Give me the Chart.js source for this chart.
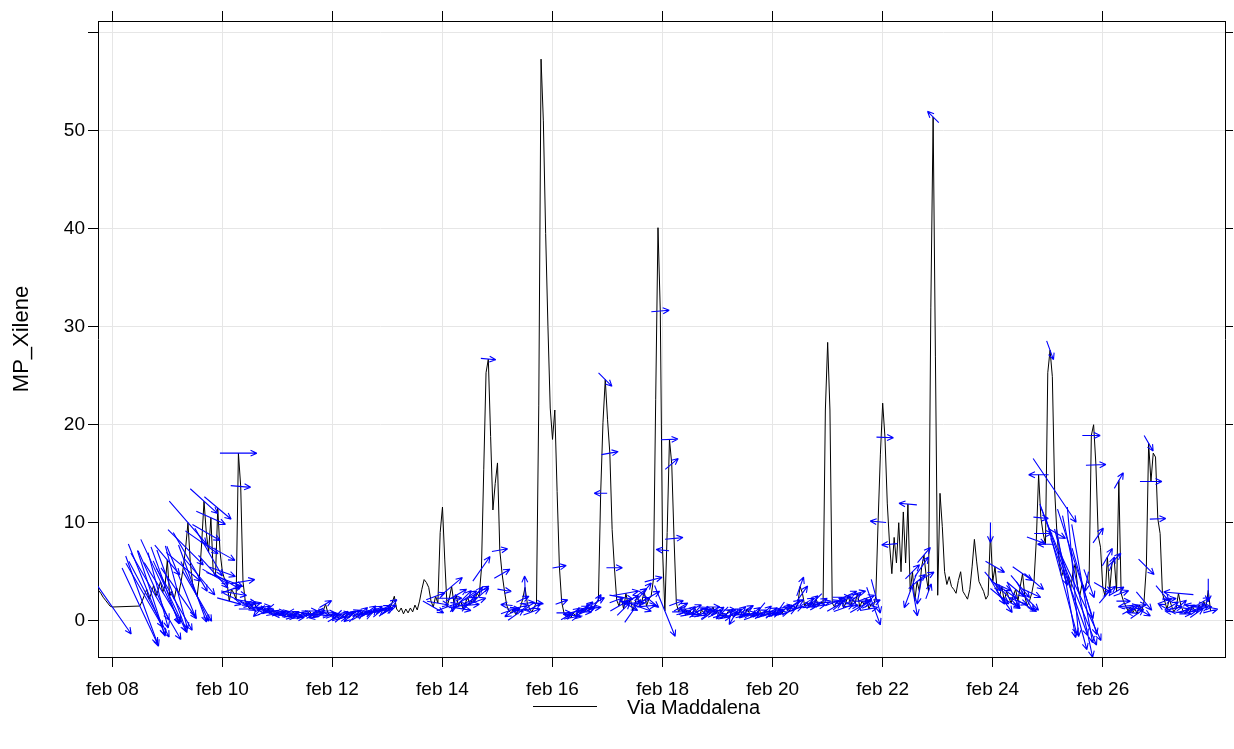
<!DOCTYPE html>
<html>
<head>
<meta charset="utf-8">
<script src="https://cdn.jsdelivr.net/npm/chart.js@4.4.1/dist/chart.umd.min.js"></script>
<style>
  html, body { margin: 0; padding: 0; background: #ffffff; }
  canvas { display: block; }
</style>
</head>
<body>
<canvas id="chart" width="1234" height="749"></canvas>
<script>
// Hourly MP-xylene at Via Maddalena with wind vectors, 7 Feb 18:00 to 27 Feb 23:00.
// Time is counted in hours from 8 Feb 00:00.
const seriesName = 'Via Maddalena';
const yTitle = 'MP_Xilene';
const firstHour = -6;

const tickHours  = [0, 48, 96, 144, 192, 240, 288, 336, 384, 432];
const tickLabels = ['feb 08', 'feb 10', 'feb 12', 'feb 14', 'feb 16', 'feb 18', 'feb 20', 'feb 22', 'feb 24', 'feb 26'];
const yTickValues = [0, 10, 20, 30, 40, 50, 60];
const yTickLabels = ['0', '10', '20', '30', '40', '50', ''];

// xylene concentration, one value per hour (null = no measurement)
const xylene = [
  3.1, 2.8, 2.4, 2.1, 1.8, 1.5,
  1.4, null, null, null, null, null, null, null, null, null, null, null,
  1.5, 2.0, 2.6, 3.2, 2.2, 2.8, 3.6, 2.5, 3.1, 4.0, 2.9, 3.6,
  6.2, 2.5, 3.0, 2.2, 3.4, 2.8, 4.0, 5.5, 7.5, 10.0, 6.0, 3.8,
  3.0, 2.5, 4.5, 8.0, 12.2, 9.0, 7.0, 10.5, 5.0, 4.5, 11.5, 7.0,
  5.0, 4.2, 4.0, 2.0, 3.2, 2.8, 2.2, 17.1, 13.7, 4.0, 2.0, 1.5,
  1.2, 1.6, 1.8, 1.3, 1.0, 1.4, 1.1, 0.9, 1.2, 0.8, 1.0, 0.7,
  0.9, 0.6, 0.8, 0.5, 0.7, 0.4, 0.6, 0.9, 0.5, 0.3, 0.6, 0.8,
  0.5, 0.7, 1.0, 0.6, 0.4, 0.7, 0.9, 0.6, 1.0, 1.7, 0.8, 0.6,
  0.5, 0.3, 0.6, 0.2, 0.4, 0.7, 0.5, 0.3, 0.6, 0.8, 0.5, 0.4,
  0.7, 0.9, 0.6, 0.8, 1.0, 0.7, 0.9, 1.1, 0.8, 1.0, 1.2, 0.9,
  1.0, 1.3, 1.8, 2.5, 1.2, 0.9, 1.3, 0.7, 1.2, 0.8, 1.3, 0.9,
  1.6, 1.1, 2.0, 3.2, 4.2, 3.9, 3.4, 2.0, 1.4, 2.5, 1.8, 9.0,
  11.6, 6.2, 1.4, 2.3, 3.5, 1.8, 2.6, 1.5, 2.0, 1.2, 1.8, 2.4,
  1.6, 2.2, 1.9, 2.8, 2.5, 5.3, 15.4, 25.3, 26.7, 18.8, 11.3, 14.0,
  16.1, 7.2, 4.8, 3.1, 1.6, 1.0, 0.8, 1.2, 0.6, 1.0, 1.4, 2.2,
  3.4, 1.8, 1.2, 0.9, 1.4, 1.8, 22.0, 57.3, 51.0, 39.5, 30.0, 21.7,
  18.5, 21.5, 13.2, 5.5, 1.9, 0.8, 0.4, 0.6, 0.3, 0.8, 0.5, 1.0,
  0.7, 1.2, 0.9, 1.4, 1.1, 1.5, 1.3, 1.8, 2.0, 13.0, 20.2, 24.6,
  20.5, 17.1, 9.3, 5.4, 2.1, 1.5, 2.4, 1.2, 2.8, 1.6, 2.2, 1.0,
  1.8, 2.6, 1.4, 2.0, 3.0, 1.5, 2.2, 2.5, 4.2, 22.6, 40.1, 31.6,
  7.2, 1.0, 9.0, 18.5, 16.0, 8.4, 1.8, 0.9, 1.4, 0.8, 1.2, 0.6,
  1.0, 0.7, 1.3, 0.9, 0.5, 1.1, 0.8, 1.2, 0.6, 0.9, 1.4, 0.7,
  1.0, 0.5, 0.8, 0.3, 0.7, 1.1, 0.6, 0.4, 0.9, 0.6, 1.0, 0.5,
  0.8, 1.2, 0.7, 0.4, 0.9, 0.6, 1.1, 0.8, 0.5, 1.0, 0.7, 0.9,
  0.6, 1.0, 0.8, 1.2, 0.7, 1.1, 1.4, 0.9, 1.3, 1.6, 1.2, 1.8,
  3.5, 2.8, 1.5, 1.9, 1.4, 2.0, 1.6, 2.2, 1.5, 1.9, 1.8, 21.5,
  28.4, 21.5, 1.8, 1.4, 2.0, 1.6, 2.4, 1.3, 1.9, 2.6, 1.5, 2.2,
  1.8, 2.8, 1.4, 2.0, 1.6, 2.3, 1.2, 1.7, 1.5, 2.5, 10.1, 17.0,
  22.2, 18.7, 12.0, 7.8, 4.8, 8.5, 5.9, 10.0, 5.0, 11.1, 5.9, 11.9,
  3.0, 5.0, 2.0, 4.0, 3.0, 5.5, 6.7, 4.5, 3.0, 32.0, 51.4, 27.0,
  2.6, 13.0, 9.6, 5.0, 3.7, 4.5, 3.5, 3.2, 2.8, 4.1, 5.0, 3.0,
  2.6, 2.2, 3.2, 5.5, 8.3, 6.0, 4.0, 3.5, 3.0, 2.2, 2.6, 9.0,
  4.0, 5.5, 3.0, 2.5, 3.5, 2.0, 3.0, 2.4, 1.8, 2.6, 3.2, 2.0,
  3.5, 4.8, 2.5, 1.5, 2.0, 2.8, 4.0, 8.2, 14.9, 10.5, 8.9, 7.8,
  25.3, 27.6, 24.9, 13.3, 8.9, 6.0, 4.5, 5.2, 3.8, 4.6, 3.2, 5.0,
  5.8, 3.5, 2.6, 3.8, 3.0, 4.0, 3.8, 18.9, 20.0, 15.9, 8.7, 7.5,
  3.4, 2.5, 6.5, 3.0, 5.8, 6.2, 3.0, 14.3, 2.8, 2.0, 1.5, 1.0,
  1.4, 0.8, 1.2, 0.7, 1.6, 1.0, 2.0, 5.5, 18.1, 14.2, 17.1, 16.7,
  10.4, 8.9, 2.8, 2.0, 1.2, 2.2, 1.5, 0.9, 1.3, 2.8, 1.6, 1.0,
  0.7, 1.2, 0.9, 1.5, 1.1, 0.8, 1.6, 1.2, 2.0, 1.4, 3.1, 1.0
];

// wind direction (degrees, where the wind comes from), same hours as above
const windDir = [
  null, null, null, null, null, null,
  325, null, null, null, null, null, null, null, null, null, null, null,
  335, 340, 330, 338, 332, 342, 336, 330, 345, 335, 328, 340,
  320, 335, 340, 330, 345, 325, 338, 310, 315, 319, 330, 340,
  335, 330, 320, 305, 312, 300, 330, 294, 318, 300, 310, 299,
  290, 291, 300, 285, 250, 280, 295, 270, 275, 260, 280, 300,
  270, 255, 90, 280, 45, 265, 100, 250, 50, 275, 85, 260,
  270, 90, 260, 280, 95, 270, 250, 85, 275, 265, 90, 280,
  260, 100, 270, 285, 80, 265, 255, 275, 90, 240, 270, 260,
  250, 240, 45, 255, 230, 260, 245, 50, 235, 250, 225, 240,
  255, 230, 245, 260, 235, 220, 250, 240, 230, 255, 245, 235,
  240, 250, 235, null, null, null, null, null, null, null, null, null,
  null, null, null, null, null, null, null, null, 300, 250, 280, null,
  null, null, 250, 270, 230, 10, 240, 260, 225, 280, 245, 235,
  265, 220, 250, 240, 230, 215, null, null, 275, null, null, null,
  null, 260, 240, 280, 95, 250, 60, 270, 235, 100, 255, 245,
  178, 265, 80, 250, 240, 275, null, null, null, null, null, null,
  null, null, null, 260, 250, 270, 240, 95, 260, 235, 280, 255,
  65, 245, 270, 230, 250, 100, 265, 210, 240, 90, null, 315,
  null, 260, null, 270, 250, 240, 280, 225, 260, 300, 250, 215,
  270, 235, 290, 245, 220, 265, 310, 240, 255, null, null, 265,
  95, 338, null, 268, 230, 265, 250, 270, 240, 255, 85, 260,
  230, 275, 245, 60, 265, 250, 240, 280, 235, 255, 270, 245,
  240, 255, 45, 260, 235, 270, 250, 30, 245, 265, 230, 255,
  50, 240, 260, 250, 235, 270, 40, 245, 255, 230, 265, 240,
  250, 265, 240, 35, 255, 230, 260, 245, 270, 235, 250, 240,
  200, 215, 255, 240, 265, 230, 250, 45, 260, 240, 255, null,
  null, null, 250, 240, 260, 230, 270, 250, 120, 245, 265, 235,
  140, 255, 240, 270, 230, 250, 260, 245, 340, 345, 95, null,
  null, 272, null, 85, null, null, null, null, null, null, null, 95,
  20, 225, 350, 230, 10, 215, 220, 240, 200, null, 135, null,
  null, null, null, null, null, null, null, null, null, null, null, null,
  null, null, null, null, null, null, null, null, null, null, null, 0,
  320, 300, 330, 310, 295, 325, 305, 315, 300, 335, 310, 290,
  320, 305, 330, 300, 315, 295, 310, 290, 90, 275, 270, 90,
  null, 340, null, 326, 300, 340, 345, 340, 350, 338, 345, 355,
  342, 348, 335, 350, 344, 10, 340, 270, null, 268, 215, null,
  300, 220, 210, 230, 200, 225, 240, 210, 250, 270, 85, 240,
  260, 95, 255, 235, 270, 300, 320, 315, 330, 270, null, null,
  268, null, 320, 250, 120, 265, 240, 95, 260, 95, 230, 255,
  270, 240, 260, 100, 245, 235, 265, 250, 240, 270, 0, 255
];

// wind speed (m/s), same hours as above
const windSpeed = [
  null, null, null, null, null, null,
  6.6, null, null, null, null, null, null, null, null, null, null, null,
  8.4, 9.6, 7.4, 9.8, 8.6, 9.0, 7.6, 10.0, 7.8, 9.3, 7.0, 8.2,
  3.9, 7.8, 8.8, 7.2, 8.6, 6.2, 7.6, 4.5, 5.0, 5.7, 6.8, 8.2,
  6.6, 5.8, 4.8, 4.0, 3.7, 3.2, 5.5, 3.2, 4.4, 3.0, 3.5, 3.4,
  2.8, 3.9, 3.0, 2.5, 2.2, 2.6, 2.8, 3.7, 2.0, 2.4, 2.2, 1.8,
  2.2, 1.8, 1.5, 2.0, 1.6, 1.9, 1.4, 1.7, 1.5, 1.6, 1.3, 1.8,
  1.6, 1.3, 1.5, 1.7, 1.2, 1.4, 1.6, 1.1, 1.5, 1.3, 1.4, 1.7,
  1.5, 1.2, 1.6, 1.4, 1.1, 1.5, 1.3, 1.7, 1.2, 1.4, 1.6, 1.5,
  1.4, 1.6, 1.3, 1.5, 1.7, 1.3, 1.6, 1.2, 1.4, 1.5, 1.7, 1.3,
  1.6, 1.4, 1.5, 1.3, 1.7, 1.4, 1.6, 1.5, 1.3, 1.4, 1.6, 1.5,
  1.3, 1.4, 1.2, null, null, null, null, null, null, null, null, null,
  null, null, null, null, null, null, null, null, 2.4, 2.0, 2.2, null,
  null, null, 2.2, 2.5, 2.8, 1.8, 2.4, 2.0, 3.0, 1.6, 2.6, 2.2,
  1.9, 3.2, 2.4, 2.8, 2.5, 3.0, null, null, 1.5, null, null, null,
  null, 1.6, 1.8, 1.4, 1.2, 1.7, 1.5, 1.3, 1.9, 1.1, 1.6, 1.4,
  2.3, 1.5, 1.2, 1.8, 1.6, 1.4, null, null, null, null, null, null,
  null, null, null, 1.4, 1.3, 1.5, 1.2, 1.1, 1.4, 1.6, 1.2, 1.5,
  1.0, 1.3, 1.4, 1.6, 1.2, 1.1, 1.5, 2.0, 1.4, 1.3, null, 1.9,
  null, 1.7, null, 1.6, 1.5, 2.0, 2.4, 1.8, 2.6, 2.2, 1.9, 2.8,
  2.0, 2.3, 2.5, 1.7, 2.2, 1.9, 2.6, 2.0, 1.8, null, null, 1.8,
  1.3, 5.5, null, 1.7, 1.7, 1.8, 1.5, 1.3, 1.6, 1.4, 1.2, 1.5,
  1.4, 1.7, 1.5, 1.2, 1.6, 1.4, 1.5, 1.3, 1.7, 1.5, 1.4, 1.6,
  1.5, 1.4, 1.7, 1.3, 1.6, 1.4, 1.5, 1.8, 1.3, 1.6, 1.4, 1.5,
  1.6, 1.4, 1.3, 1.7, 1.5, 1.4, 1.9, 1.3, 1.6, 1.5, 1.4, 1.6,
  1.4, 1.6, 1.5, 1.7, 1.3, 1.6, 1.4, 1.5, 1.3, 1.7, 1.5, 1.4,
  2.0, 1.8, 1.5, 1.6, 1.4, 1.7, 1.5, 1.6, 1.4, 1.5, 1.6, null,
  null, null, 1.5, 1.7, 1.9, 1.6, 1.8, 2.1, 1.7, 1.9, 1.6, 2.0,
  1.8, 1.7, 2.2, 1.6, 1.9, 1.7, 1.8, 2.0, 4.0, 3.5, 1.6, null,
  null, 1.7, null, 1.6, null, null, null, null, null, null, null, 1.8,
  3.5, 2.0, 3.0, 2.2, 2.6, 2.4, 2.0, 1.8, 1.6, null, 1.6, null,
  null, null, null, null, null, null, null, null, null, null, null, null,
  null, null, null, null, null, null, null, null, null, null, null, 2.0,
  2.5, 2.2, 3.0, 2.4, 2.0, 2.8, 2.6, 3.2, 2.1, 2.7, 2.3, 2.0,
  2.9, 2.4, 3.4, 2.2, 2.6, 2.0, 2.5, 2.0, 2.0, 1.5, 1.8, 1.6,
  null, 2.0, null, 7.7, 2.0, 5.0, 12.0, 14.0, 11.0, 15.0, 12.5, 13.0,
  11.5, 14.5, 10.0, 12.0, 9.0, 2.0, 3.0, 1.8, null, 2.0, 1.8, null,
  2.0, 1.8, 2.0, 1.6, 1.5, 1.9, 1.7, 1.8, 1.6, 1.4, 1.5, 1.3,
  1.7, 1.2, 1.5, 1.6, 1.4, 2.0, 2.4, 2.2, 1.8, 2.2, null, null,
  1.6, null, 2.0, 1.5, 2.0, 1.4, 1.6, 1.8, 1.3, 3.0, 1.5, 1.4,
  1.2, 1.6, 1.3, 1.5, 1.4, 1.6, 1.3, 1.5, 1.4, 1.2, 2.3, 1.5
];

const FONT = "'Liberation Sans', Arial, Helvetica, sans-serif";
const ARROW_PX_PER_MS = 10;   // arrow length in pixels per m/s
const HEAD_LEN = 7;
const HEAD_ANGLE = 25 * Math.PI / 180;

// Wind vectors centred on each measurement, pointing downwind
const windArrows = {
  id: 'windArrows',
  afterDatasetsDraw(chart) {
    const { ctx, chartArea: a, scales: { x, y } } = chart;
    ctx.save();
    ctx.beginPath();
    ctx.rect(a.left, a.top, a.right - a.left, a.bottom - a.top);
    ctx.clip();
    ctx.strokeStyle = '#0000ff';
    ctx.lineWidth = 1.1;
    xylene.forEach((v, i) => {
      const wd = windDir[i], ws = windSpeed[i];
      if (v == null || wd == null || ws == null) return;
      const px = x.getPixelForValue(firstHour + i);
      const py = y.getPixelForValue(v);
      const to = (wd + 180) * Math.PI / 180;
      const len = ws * ARROW_PX_PER_MS;
      const dx = Math.sin(to) * len, dy = -Math.cos(to) * len;
      const x0 = px - dx / 2, y0 = py - dy / 2;
      const x1 = px + dx / 2, y1 = py + dy / 2;
      const ang = Math.atan2(y1 - y0, x1 - x0);
      ctx.beginPath();
      ctx.moveTo(x0, y0);
      ctx.lineTo(x1, y1);
      for (const s of [-1, 1]) {
        ctx.moveTo(x1, y1);
        ctx.lineTo(x1 - HEAD_LEN * Math.cos(ang + s * HEAD_ANGLE),
                   y1 - HEAD_LEN * Math.sin(ang + s * HEAD_ANGLE));
      }
      ctx.stroke();
    });
    ctx.restore();
  }
};

// Key below the panel: line sample plus site name
const lineKey = {
  id: 'lineKey',
  afterDraw(chart) {
    const { ctx } = chart;
    const ds = chart.data.datasets[0];
    ctx.save();
    ctx.strokeStyle = ds.borderColor;
    ctx.lineWidth = 1;
    ctx.beginPath();
    ctx.moveTo(533, 706.5);
    ctx.lineTo(597, 706.5);
    ctx.stroke();
    ctx.fillStyle = '#000';
    ctx.font = '20px ' + FONT;
    ctx.textBaseline = 'middle';
    ctx.textAlign = 'left';
    ctx.fillText(ds.label, 627, 708);
    ctx.restore();
  }
};

const X_MIN = -6.24, X_MAX = 485.3;
const Y_MIN = -3.70, Y_MAX = 61.19;

const setXTicks = s => { s.ticks = tickHours.map(v => ({ value: v })); };
const setYTicks = s => { s.ticks = yTickValues.map(v => ({ value: v })); };

new Chart(document.getElementById('chart'), {
  type: 'line',
  data: {
    datasets: [{
      label: seriesName,
      data: xylene.map((v, i) => ({ x: firstHour + i, y: v })),
      borderColor: '#000000',
      borderWidth: 1,
      pointRadius: 0,
      tension: 0,
      spanGaps: true,
      fill: false
    }]
  },
  options: {
    responsive: false,
    animation: false,
    devicePixelRatio: 1,
    layout: { padding: 0, autoPadding: false },
    plugins: { legend: { display: false }, tooltip: { enabled: false } },
    scales: {
      x: {
        type: 'linear', position: 'bottom', min: X_MIN, max: X_MAX,
        afterBuildTicks: setXTicks,
        afterFit: s => { s.height = 92; },
        ticks: {
          callback: (v, i) => tickLabels[i],
          font: { family: FONT, size: 19 }, color: '#000',
          padding: 11, maxRotation: 0, autoSkip: false
        },
        grid: { color: '#e6e6e6', tickColor: '#000', tickLength: 10, lineWidth: 1 },
        border: { color: '#000', width: 1 }
      },
      xTop: {
        type: 'linear', position: 'top', min: X_MIN, max: X_MAX,
        afterBuildTicks: setXTicks,
        afterFit: s => { s.height = 21; },
        ticks: { display: false },
        grid: { drawOnChartArea: false, tickColor: '#000', tickLength: 10 },
        border: { color: '#000', width: 1 }
      },
      y: {
        type: 'linear', position: 'left', min: Y_MIN, max: Y_MAX,
        afterBuildTicks: setYTicks,
        afterFit: s => { s.width = 98; },
        ticks: {
          callback: (v, i) => yTickLabels[i],
          font: { family: FONT, size: 19 }, color: '#000', padding: 3
        },
        grid: { color: '#e6e6e6', tickColor: '#000', tickLength: 10, lineWidth: 1 },
        border: { color: '#000', width: 1 },
        title: {
          display: true, text: yTitle, color: '#000',
          font: { family: FONT, size: 22 }, padding: { top: 9, bottom: 0 }
        }
      },
      yRight: {
        type: 'linear', position: 'right', min: Y_MIN, max: Y_MAX,
        afterBuildTicks: setYTicks,
        afterFit: s => { s.width = 9; },
        ticks: { display: false },
        grid: { drawOnChartArea: false, tickColor: '#000', tickLength: 8 },
        border: { color: '#000', width: 1 }
      }
    }
  },
  plugins: [windArrows, lineKey]
});
</script>
</body>
</html>
